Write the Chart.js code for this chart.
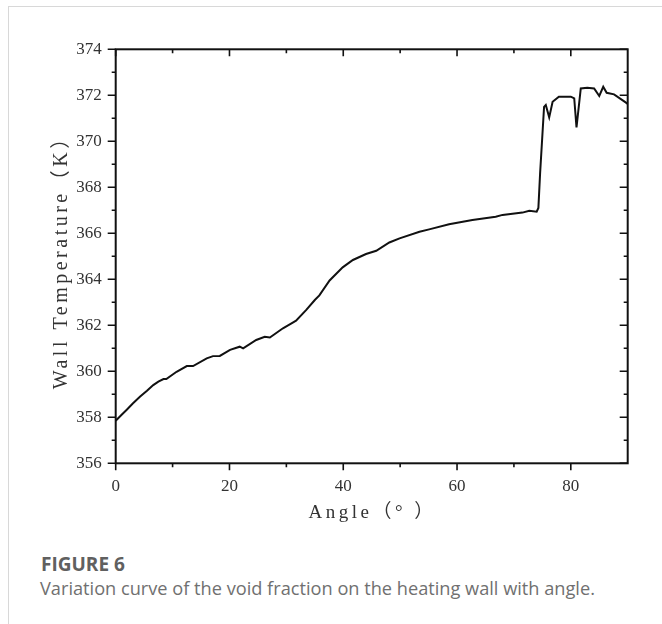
<!DOCTYPE html>
<html>
<head>
<meta charset="utf-8">
<script src="https://cdn.jsdelivr.net/npm/chart.js@4"></script>
<style>
  body { margin: 0; background: #fff; }
  #wrap { position: relative; width: 662px; height: 624px; overflow: hidden; }
  #card { position: absolute; left: 8px; top: 6px; width: 700px; height: 700px;
          border-left: 1px solid #d8d8d8; border-top: 1px solid #d8d8d8; }
  #plot { position: absolute; left: 0; top: 0; }
  .fig { position: absolute; left: 41px; top: 551px; font: 700 19px 'Open Sans'; color: #606060; }
  .cap { position: absolute; left: 40px; top: 576px; font: 18.2px 'Open Sans'; color: #707070; white-space: nowrap; }
</style>
</head>
<body>
<div id="wrap">
  <div id="card"></div>
  <canvas id="plot" width="662" height="540"></canvas>
  <div class="fig">FIGURE 6</div>
  <div class="cap">Variation curve of the void fraction on the heating wall with angle.</div>
</div>
<script>
// angle (deg) and wall temperature (K)
const angles = [0, 1.0, 1.9, 3.0, 4.3, 5.5, 6.6, 7.5, 8.4, 8.9, 10.7, 12.5, 13.6, 16.0, 17.1, 18.3,
  20.1, 21.8, 22.4, 24.7, 26.2, 27.1, 29.4, 31.2, 31.7, 33.5, 35.0, 35.8, 37.6, 39.9, 41.7, 44.0,
  45.8, 48.1, 49.9, 53.4, 55.1, 58.6, 62.7, 66.8, 68.0, 71.5, 72.7, 74.0, 74.3, 74.6, 75.3, 75.6,
  76.2, 76.8, 77.9, 80.0, 80.6, 81.0, 81.75, 82.9, 84.1, 85.0, 85.7, 86.3, 87.6, 89.7, 90];
const temps = [357.85, 358.1, 358.32, 358.6, 358.9, 359.15, 359.4, 359.55, 359.66, 359.66, 359.98,
  360.23, 360.23, 360.56, 360.66, 360.67, 360.93, 361.07, 361.0, 361.36, 361.5, 361.47, 361.87,
  362.13, 362.2, 362.67, 363.1, 363.3, 363.95, 364.52, 364.84, 365.1, 365.24, 365.6, 365.78,
  366.07, 366.17, 366.39, 366.58, 366.72, 366.8, 366.9, 366.98, 366.94, 367.1, 368.6, 371.5,
  371.58, 371.04, 371.72, 371.94, 371.94, 371.87, 370.6, 372.3, 372.33, 372.3, 371.97, 372.37,
  372.11, 372.04, 371.68, 371.62];
const xTicks = [0, 20, 40, 60, 80];
const yTicks = [356, 358, 360, 362, 364, 366, 368, 370, 372, 374];
const xTitle = 'Angle（° ）';
const yTitle = 'Wall Temperature（K）';

const points = angles.map((a, i) => ({ x: a, y: temps[i] }));

Chart.defaults.font.family = 'Liberation Serif';
Chart.defaults.font.size = 17;
Chart.defaults.color = '#333';

// frame, major/minor ticks (outward left/bottom, inward top/right) and the
// spaced-out axis titles
const frameTicks = {
  id: 'frameTicks',
  afterDraw(chart) {
    const { ctx, chartArea: a, scales: { x, y } } = chart;
    ctx.save();
    ctx.strokeStyle = '#111';
    ctx.lineWidth = 2;
    ctx.strokeRect(a.left, a.top, a.right - a.left, a.bottom - a.top);
    ctx.lineWidth = 1.6;
    ctx.beginPath();
    for (let v = 0; v < 90; v += 10) {
      const px = x.getPixelForValue(v);
      const len = v % 20 === 0 ? 7 : 4;
      ctx.moveTo(px, a.bottom); ctx.lineTo(px, a.bottom + len);
      ctx.moveTo(px, a.top); ctx.lineTo(px, a.top + len);
    }
    for (let v = 356; v <= 374; v += 1) {
      const py = y.getPixelForValue(v);
      const len = v % 2 === 0 ? 8 : 4;
      ctx.moveTo(a.left, py); ctx.lineTo(a.left - len, py);
      ctx.moveTo(a.right, py); ctx.lineTo(a.right - len, py);
    }
    ctx.stroke();

    ctx.fillStyle = '#333';
    ctx.textAlign = 'center';
    ctx.textBaseline = 'middle';
    ctx.font = '19px Liberation Serif, Noto Sans CJK SC';
    ctx.letterSpacing = '3.5px';
    ctx.fillText(xTitle, (a.left + a.right) / 2 + 1, a.bottom + 50);
    ctx.font = '20px Liberation Serif, Noto Sans CJK SC';
    ctx.letterSpacing = '3.5px';
    ctx.translate(a.left - 54, (a.top + a.bottom) / 2 + 1);
    ctx.rotate(-Math.PI / 2);
    ctx.fillText(yTitle, 0, 0);
    ctx.restore();
  }
};

new Chart(document.getElementById('plot'), {
  type: 'scatter',
  data: {
    datasets: [{
      data: points,
      showLine: true,
      borderColor: '#111',
      borderWidth: 2,
      pointRadius: 0,
      tension: 0
    }]
  },
  options: {
    responsive: false,
    animation: false,
    layout: { padding: { left: 0, top: 49.3, right: 34.3, bottom: 0 } },
    plugins: { legend: { display: false }, tooltip: { enabled: false } },
    scales: {
      x: {
        type: 'linear', min: 0, max: 90,
        afterFit: s => { s.height = 76.7; },
        afterBuildTicks: s => { s.ticks = xTicks.map(v => ({ value: v })); },
        grid: { display: false, drawTicks: false },
        border: { display: false },
        ticks: { padding: 13, color: '#333', font: { family: 'Liberation Serif', size: 17 } }
      },
      y: {
        type: 'linear', min: 356, max: 374,
        afterFit: s => { s.width = 115.7; },
        afterBuildTicks: s => { s.ticks = yTicks.map(v => ({ value: v })); },
        grid: { display: false, drawTicks: false },
        border: { display: false },
        ticks: { padding: 14, color: '#333', font: { family: 'Liberation Serif', size: 17 } }
      }
    }
  },
  plugins: [frameTicks]
});
</script>
</body>
</html>
